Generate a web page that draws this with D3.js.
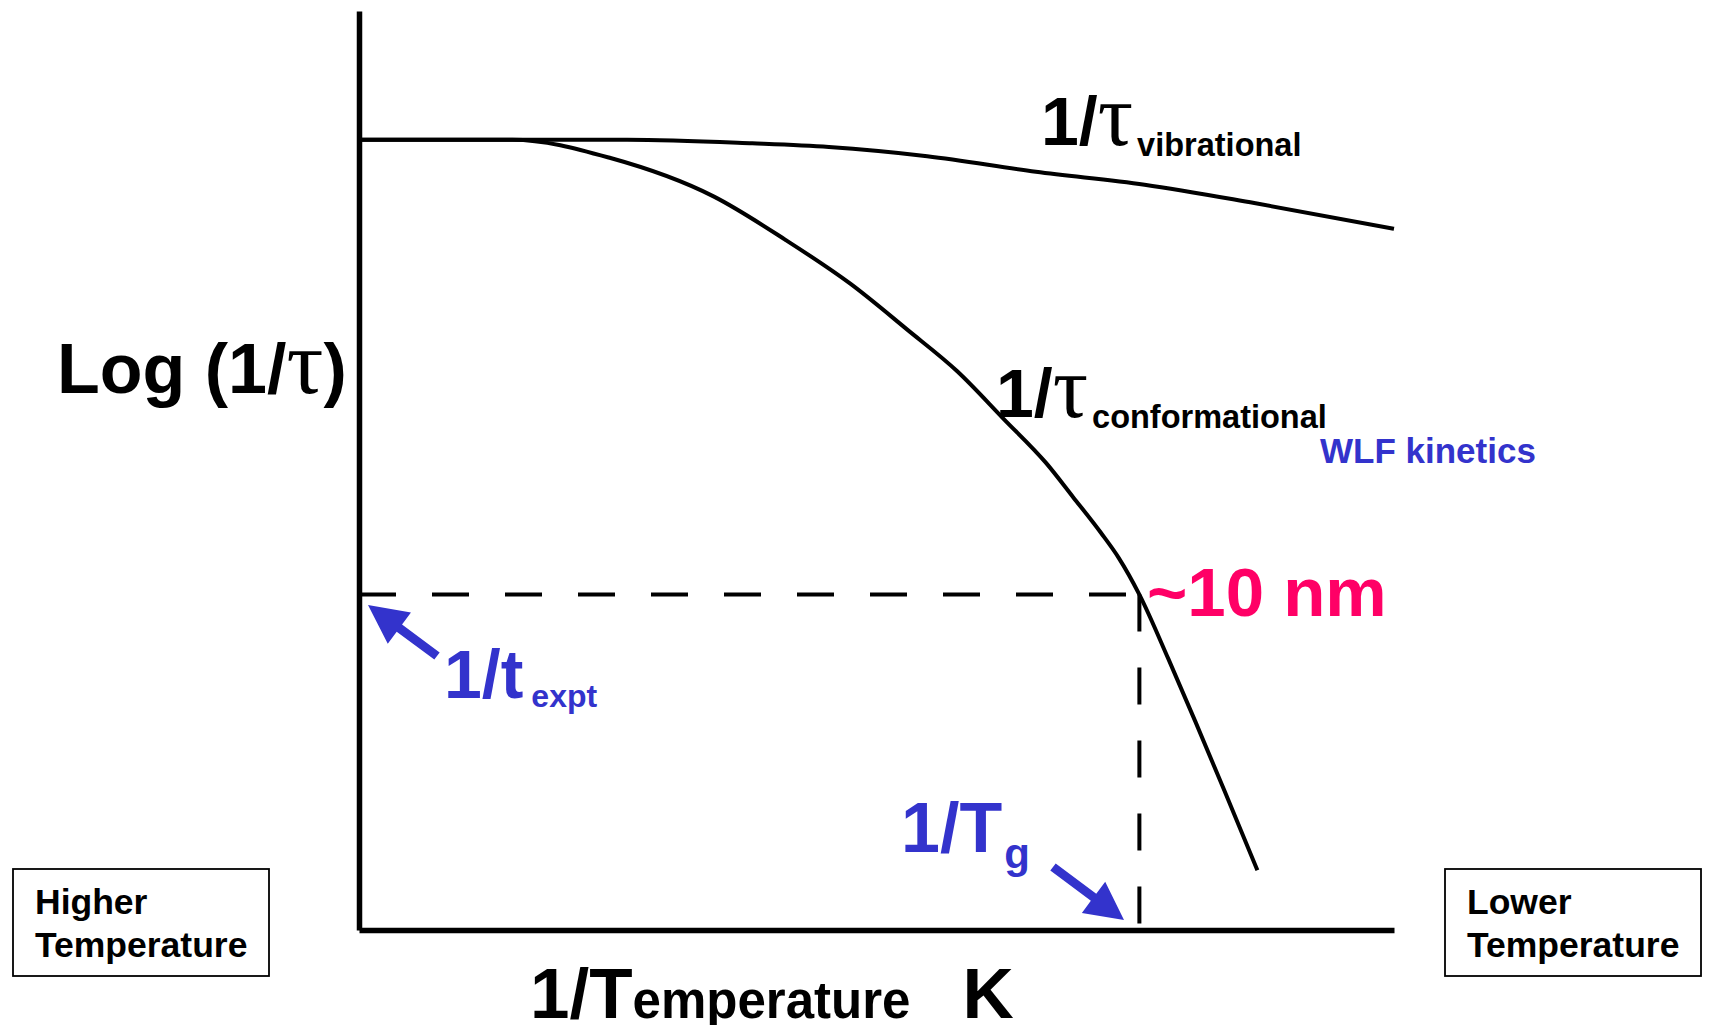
<!DOCTYPE html>
<html>
<head>
<meta charset="utf-8">
<script src="https://cdn.jsdelivr.net/npm/d3@7"></script>
<style>
  html, body { margin: 0; padding: 0; background: #ffffff; }
  svg { display: block; }
  text { font-family: "Liberation Sans", Arial, sans-serif; font-weight: bold; }
  .greek { font-family: "Liberation Serif", "Times New Roman", serif; font-weight: normal; }
</style>
</head>
<body>
<svg id="chart" width="1710" height="1025"></svg>
<script>
// Schematic relaxation rates, log(1/tau), against inverse temperature (arbitrary units 0-100)
const vibrationalX = [0, 25.9, 38.0, 45.4, 54.9, 65.4, 75.9, 86.5, 100];
const vibrationalY = [86.0, 86.0, 85.6, 85.2, 84.2, 82.5, 81.1, 79.1, 76.3];

const conformationalX = [0, 14.8, 24.3, 34.3, 41.2, 47.5, 53.0, 57.8, 62.3, 66.4, 69.0, 71.7, 73.4, 75.4, 78.2, 80.8, 83.6, 86.8];
const conformationalY = [86.0, 86.0, 84.0, 79.8, 75.1, 70.3, 65.3, 60.8, 55.6, 50.8, 47.1, 43.2, 40.5, 36.5, 29.5, 22.7, 15.2, 6.5];

// Experimental rate 1/t_expt and the glass transition 1/Tg where the curve crosses it
const expRate = 36.5;
const invTg = 75.4;

const BLUE = "#3333cc";
const PINK = "#ff0066";

const svg = d3.select("#chart");

const x = d3.scaleLinear().domain([0, 100]).range([359, 1394]);
const y = d3.scaleLinear().domain([0, 100]).range([930, 11]);

// Axes: bare lines, no ticks
const gx = svg.append("g").attr("transform", `translate(0,${y(0)})`)
  .call(d3.axisBottom(x).tickValues([]).tickSizeOuter(0));
const gy = svg.append("g").attr("transform", `translate(${x(0)},0)`)
  .call(d3.axisLeft(y).tickValues([]).tickSizeOuter(0));
[gx, gy].forEach(g => g.select(".domain").attr("stroke", "#000").attr("stroke-width", 5.5));

// Dashed guides at 1/t_expt and 1/Tg
svg.append("line")
  .attr("x1", x(0)).attr("x2", x(invTg))
  .attr("y1", y(expRate)).attr("y2", y(expRate))
  .attr("stroke", "#000").attr("stroke-width", 4).attr("stroke-dasharray", "37,36");
svg.append("line")
  .attr("x1", x(invTg)).attr("x2", x(invTg))
  .attr("y1", y(expRate)).attr("y2", y(0))
  .attr("stroke", "#000").attr("stroke-width", 4).attr("stroke-dasharray", "37,36");

// Curves
const line = d3.line().x(d => x(d[0])).y(d => y(d[1])).curve(d3.curveMonotoneX);
svg.append("path")
  .datum(vibrationalX.map((v, i) => [v, vibrationalY[i]]))
  .attr("d", line).attr("fill", "none").attr("stroke", "#000").attr("stroke-width", 4);
svg.append("path")
  .datum(conformationalX.map((v, i) => [v, conformationalY[i]]))
  .attr("d", line).attr("fill", "none").attr("stroke", "#000").attr("stroke-width", 4)
  .attr("stroke-linejoin", "round");

// Block arrow from (x1,y1) to tip (x2,y2)
function arrow(x1, y1, x2, y2, shaft, headLen, headHalf, color) {
  const dx = x2 - x1, dy = y2 - y1, L = Math.hypot(dx, dy);
  const ux = dx / L, uy = dy / L, px = -uy, py = ux;
  const bx = x2 - ux * headLen, by = y2 - uy * headLen;
  const s = shaft / 2;
  const pts = [
    [x1 + px * s, y1 + py * s], [bx + px * s, by + py * s], [bx + px * headHalf, by + py * headHalf],
    [x2, y2],
    [bx - px * headHalf, by - py * headHalf], [bx - px * s, by - py * s], [x1 - px * s, y1 - py * s]
  ];
  svg.append("path").attr("d", "M" + pts.map(p => p.join(",")).join("L") + "Z").attr("fill", color);
}
arrow(437, 656, 368, 605, 9, 39, 19.5, BLUE);
arrow(1053, 867, 1124, 920, 9, 38, 19.5, BLUE);

// Labels
function label(tx, ty, size, color, parts) {
  const t = svg.append("text").attr("x", tx).attr("y", ty).attr("font-size", size).attr("fill", color);
  parts.forEach(p => {
    const s = t.append("tspan").text(p.text);
    if (p.cls) s.attr("class", p.cls);
    if (p.size) s.attr("font-size", p.size);
    if (p.dy) s.attr("dy", p.dy);
    if (p.dx) s.attr("dx", p.dx);
  });
  return t;
}

label(57, 393, 70, "#000", [{ text: "Log (1/" }, { text: "\u03c4", cls: "greek", size: 92 }, { text: ")" }]);

label(1041, 145, 68, "#000", [{ text: "1/" }, { text: "\u03c4", cls: "greek", size: 88 },
  { text: "vibrational", size: 32.5, dx: 4, dy: 11 }]);

label(996, 417, 68, "#000", [{ text: "1/" }, { text: "\u03c4", cls: "greek", size: 88 },
  { text: "conformational", size: 32.5, dx: 4, dy: 11 }]);

label(1320, 463, 35, BLUE, [{ text: "WLF kinetics" }]);

label(1147, 616, 69, PINK, [{ text: "~10 nm" }]);

label(444, 698, 68, BLUE, [{ text: "1/t" }, { text: "expt", size: 32, dx: 8, dy: 9 }]);

label(901, 852, 70, BLUE, [{ text: "1/T" }, { text: "g", size: 42, dx: 2, dy: 16 }]);

label(530, 1018, 71, "#000", [{ text: "1/T" }, { text: "emperature", size: 51 }, { text: "K", dx: 52 }]);

// Direction boxes
function box(x0, y0, w, h, lines) {
  svg.append("rect").attr("x", x0).attr("y", y0).attr("width", w).attr("height", h)
    .attr("fill", "#fff").attr("stroke", "#000").attr("stroke-width", 1.8);
  lines.forEach((s, i) => {
    svg.append("text").attr("x", x0 + 22).attr("y", y0 + 45 + i * 43)
      .attr("font-size", 35.5).attr("fill", "#000").text(s);
  });
}
box(13, 869, 256, 107, ["Higher", "Temperature"]);
box(1445, 869, 256, 107, ["Lower", "Temperature"]);
</script>
</body>
</html>
